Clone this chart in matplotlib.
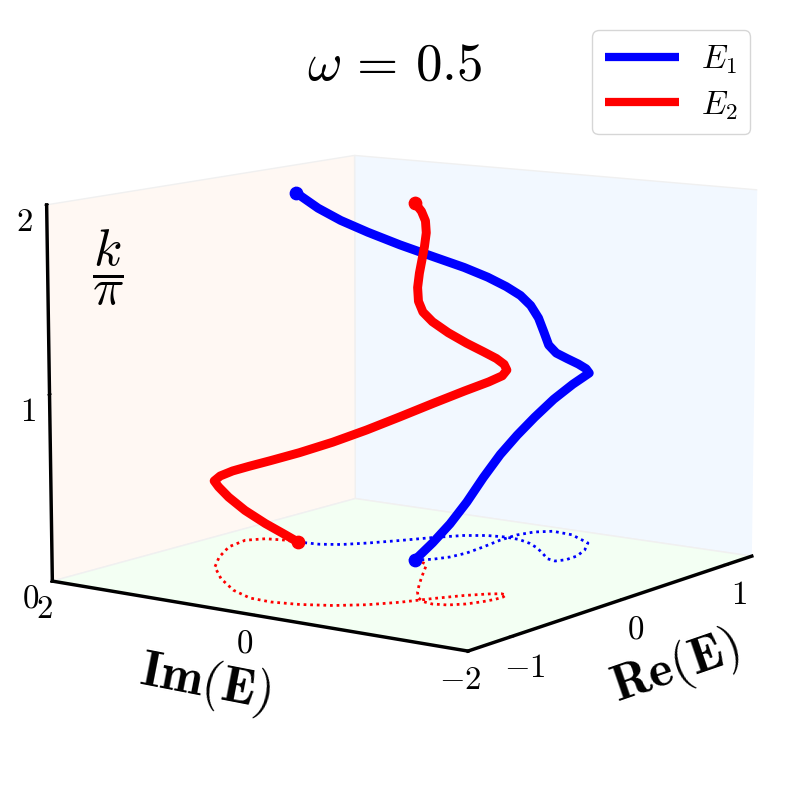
import matplotlib
matplotlib.use('Agg')
import matplotlib.pyplot as plt
from matplotlib.lines import Line2D

plt.rcParams['mathtext.fontset'] = 'cm'

# E1 / E2 in the (Re, Im, k/pi) space
re_e1 = [0.137,0.207,0.306,0.440,0.615,0.810,0.976,1.095,1.172,1.156,1.029,0.870,0.720,0.609,0.549,0.572,0.666,0.764,0.839,0.887,0.896,0.870,0.796,0.657,0.489,0.338,0.223,0.158,0.136]
im_e1 = [0.132,0.032,-0.032,-0.055,-0.032,0.006,0.011,-0.039,-0.150,-0.355,-0.643,-0.771,-0.847,-0.853,-0.807,-0.710,-0.568,-0.413,-0.258,-0.107,0.043,0.200,0.358,0.516,0.670,0.823,0.967,1.121,1.318]
k_e1 = [0.000,0.091,0.183,0.283,0.388,0.482,0.564,0.650,0.748,0.849,0.949,1.004,1.056,1.101,1.137,1.171,1.218,1.274,1.324,1.364,1.403,1.449,1.503,1.570,1.647,1.725,1.795,1.861,1.937]

re_e2 = [0.136,0.132,0.100,0.006,-0.176,-0.409,-0.615,-0.817,-0.991,-1.082,-1.091,-1.050,-0.970,-0.858,-0.715,-0.548,-0.400,-0.301,-0.257,-0.267,-0.313,-0.378,-0.462,-0.552,-0.624,-0.652,-0.634,-0.578,-0.474,-0.327,-0.176,-0.042,0.052,0.094,0.117,0.137]
im_e2 = [1.318,1.461,1.613,1.713,1.664,1.485,1.280,0.973,0.639,0.368,0.152,-0.082,-0.310,-0.504,-0.661,-0.794,-0.929,-1.049,-1.129,-1.182,-1.204,-1.200,-1.167,-1.108,-1.014,-0.897,-0.788,-0.685,-0.563,-0.419,-0.278,-0.156,-0.071,-0.017,0.047,0.132]
k_e2 = [0.000,0.035,0.086,0.168,0.277,0.387,0.470,0.554,0.635,0.695,0.742,0.795,0.854,0.914,0.972,1.027,1.079,1.120,1.151,1.186,1.224,1.263,1.308,1.360,1.418,1.471,1.512,1.554,1.605,1.653,1.696,1.745,1.803,1.859,1.904,1.942]

re_ticks = [-1, 0, 1]
im_ticks = [-2, 0, 2]
k_ticks = [0, 1, 2]
legend_labels = ['$E_1$', '$E_2$']

fig = plt.figure(figsize=(8, 8), dpi=99)
ax = fig.add_axes([0.0054, 0.0064, 0.99, 0.99], projection='3d')

# dotted shadows on the floor
ax.plot(re_e1, im_e1, [0] * len(re_e1), color='b', ls=(0, (1, 1.4)), lw=2)
ax.plot(re_e2, im_e2, [0] * len(re_e2), color='r', ls=(0, (1, 1.4)), lw=2)

# the curves themselves
ax.plot(re_e1, im_e1, k_e1, color='b', lw=6.5)
ax.plot(re_e2, im_e2, k_e2, color='r', lw=6.5)
ax.plot([re_e1[0], re_e1[-1]], [im_e1[0], im_e1[-1]], [k_e1[0], k_e1[-1]], 'bo', ms=9)
ax.plot([re_e2[0], re_e2[-1]], [im_e2[0], im_e2[-1]], [k_e2[0], k_e2[-1]], 'ro', ms=9)

ax.set_xlim(-1.37, 1.26)
ax.set_ylim(-2, 2)
ax.set_zlim(0, 2)
ax.view_init(elev=9.924, azim=-144.23)
ax.set_box_aspect((1.344, 1.337, 1))
ax.set_proj_type('persp', focal_length=0.972)

ax.grid(False)
ax.xaxis.set_pane_color('#f2f8ff')
ax.yaxis.set_pane_color('#fff8f3')
ax.zaxis.set_pane_color('#f3fff3')
for axis in (ax.xaxis, ax.yaxis, ax.zaxis):
    axis.pane.set_edgecolor('#f0f0f0')
    axis.line.set_linewidth(2.5)
    axis.line.set_color('k')
    axis._axinfo['tick']['inward_factor'] = 0.06
    axis._axinfo['tick']['outward_factor'] = 0.06

ax.set_xticks(re_ticks)
ax.set_xticklabels(['$%d$' % t for t in re_ticks])
ax.set_yticks(im_ticks)
ax.set_yticklabels(['$%d$' % t for t in im_ticks])
ax.set_zticks(k_ticks)
ax.set_zticklabels(['$%d$' % t for t in k_ticks])
ax.tick_params(labelsize=24, pad=1)
ax.tick_params(axis='y', pad=-1)

fig.text(395 / 792, 1 - 65 / 792, r'$\omega\,=\,0.5$', fontsize=38.5, ha='center', va='center')
fig.text(205 / 792, 1 - 683 / 792, r'$\mathbf{Im(E)}$', fontsize=37, rotation=-11, ha='center', va='center')
fig.text(675 / 792, 1 - 668 / 792, r'$\mathbf{Re(E)}$', fontsize=37, rotation=19, ha='center', va='center')
fig.text(108 / 792, 1 - 268 / 792, r'$\dfrac{k}{\pi}$', fontsize=38, ha='center', va='center')

handles = [Line2D([], [], color='b', lw=6, solid_capstyle='butt'),
           Line2D([], [], color='r', lw=6, solid_capstyle='butt')]
fig.legend(handles, legend_labels, loc='upper left', bbox_to_anchor=(592 / 792, 1 - 30 / 792),
           borderaxespad=0, borderpad=0.38, fontsize=24, handlelength=2.27, labelspacing=0.36, handletextpad=0.65)

fig.savefig('out.png', dpi=99)
